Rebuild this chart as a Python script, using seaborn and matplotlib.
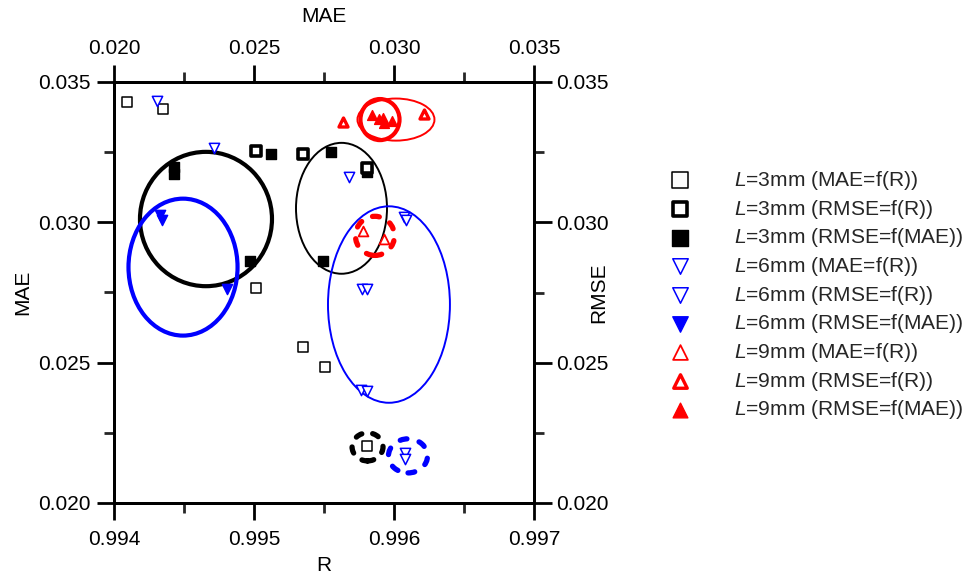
import numpy as np
import pandas as pd
import matplotlib
matplotlib.use("Agg")
import matplotlib.pyplot as plt
import seaborn as sns
from matplotlib.patches import Ellipse
from matplotlib.ticker import MultipleLocator, FormatStrFormatter

# ---------------- data ----------------
# L = 3 mm
l3_mae_R_x = [0.994095, 0.994350, 0.995012, 0.995352, 0.995507, 0.995805]
l3_mae_R_y = [0.03429, 0.03405, 0.02767, 0.02557, 0.02483, 0.02204]
l3_rmse_R_x = [0.995012, 0.995352, 0.995809]
l3_rmse_R_y = [0.03255, 0.03245, 0.03192]
l3_rmse_MAE_x = [0.02213, 0.02213, 0.02486, 0.02561, 0.02774, 0.02748, 0.02903]
l3_rmse_MAE_y = [0.03198, 0.03171, 0.02864, 0.03245, 0.03251, 0.02864, 0.03178]
# L = 6 mm
l6_mae_R_x = [0.994712, 0.995679, 0.995764, 0.995809, 0.996079, 0.996079]
l6_mae_R_y = [0.03265, 0.03162, 0.02403, 0.02398, 0.02178, 0.02158]
l6_rmse_R_x = [0.994307, 0.995769, 0.995809, 0.996074, 0.996086]
l6_rmse_R_y = [0.03431, 0.02763, 0.02763, 0.03019, 0.03007]
l6_rmse_MAE_x = [0.02164, 0.02170, 0.02403]
l6_rmse_MAE_y = [0.03025, 0.03007, 0.02763]
# L = 9 mm
l9_mae_R_x = [0.995781, 0.995929]
l9_mae_R_y = [0.02968, 0.02942]
l9_rmse_R_x = [0.995634, 0.996214]
l9_rmse_R_y = [0.03358, 0.03386]
l9_rmse_MAE_x = [0.029225, 0.029464, 0.029618, 0.029654, 0.029918]
l9_rmse_MAE_y = [0.033821, 0.033668, 0.033704, 0.033525, 0.033607]

# ellipses (in R / MAE-RMSE units): centre, full width, full height
ell_cx = [0.994657, 0.994493, 0.995625, 0.995964, 0.995900, 0.996014, 0.995864, 0.995811, 0.996100]
ell_cy = [0.030118, 0.028404, 0.030500, 0.027071, 0.033661, 0.033661, 0.029518, 0.022000, 0.021679]
ell_w = [0.000943, 0.000779, 0.000650, 0.000871, 0.000279, 0.000550, 0.000279, 0.000221, 0.000279]
ell_h = [0.004786, 0.004879, 0.004664, 0.007000, 0.001464, 0.001500, 0.001393, 0.001000, 0.001214]

legend_labels = [
    "$L$=3mm (MAE=f(R))", "$L$=3mm (RMSE=f(R))", "$L$=3mm (RMSE=f(MAE))",
    "$L$=6mm (MAE=f(R))", "$L$=6mm (RMSE=f(R))", "$L$=6mm (RMSE=f(MAE))",
    "$L$=9mm (MAE=f(R))", "$L$=9mm (RMSE=f(R))", "$L$=9mm (RMSE=f(MAE))",
]
r_ticks = [0.994, 0.995, 0.996, 0.997]
v_ticks = [0.020, 0.025, 0.030, 0.035]

# ---------------- style ----------------
sns.set_theme(style="white")
plt.rcParams["font.family"] = ["Liberation Sans", "DejaVu Sans"]
plt.rcParams["mathtext.fontset"] = "custom"
plt.rcParams["mathtext.it"] = "Liberation Sans:italic"
plt.rcParams["mathtext.rm"] = "Liberation Sans"
FS = 15

W, H = 965, 575
fig = plt.figure(figsize=(W / 100, H / 100), dpi=100)
fig.patch.set_facecolor("white")
ax = fig.add_axes([114 / W, (H - 503) / H, 420 / W, 421 / H])
ax_top = ax.twiny()    # MAE on top, shares left y
ax_right = ax.twinx()  # RMSE on right, shares bottom x

ax.set_xlim(0.994, 0.997)
ax.set_ylim(0.020, 0.035)
ax_top.set_xlim(0.020, 0.035)
ax_right.set_ylim(0.020, 0.035)

# ---------------- ellipses ----------------
ell_styles = [
    dict(color="black", lw=3.0, ls="-"),
    dict(color="blue", lw=3.0, ls="-"),
    dict(color="black", lw=1.4, ls="-"),
    dict(color="blue", lw=1.4, ls="-"),
    dict(color="red", lw=3.0, ls="-"),
    dict(color="red", lw=1.4, ls="-"),
    dict(color="red", lw=3.8, ls=(0, (1.3, 2.3))),
    dict(color="black", lw=3.8, ls=(0, (1.2, 2.1))),
    dict(color="blue", lw=3.8, ls=(0, (1.3, 2.4))),
]
for cx, cy, w, h, st in zip(ell_cx, ell_cy, ell_w, ell_h, ell_styles):
    e = Ellipse((cx, cy), w, h, fill=False, edgecolor=st["color"], linewidth=st["lw"],
                linestyle=st["ls"], capstyle="round", zorder=2)
    ax.add_patch(e)

# ---------------- points ----------------
handles = []
def pts(axis, x, y, marker, fc, ec, lw, s, label):
    sns.scatterplot(x=x, y=y, ax=axis, marker=marker, s=s, facecolor=fc,
                    edgecolor=ec, linewidth=lw, legend=False, label=label, zorder=3)
    handles.append(axis.collections[-1])

pts(ax, l3_mae_R_x, l3_mae_R_y, "s", "white", "black", 1.1, 55, legend_labels[0])
pts(ax_right, l3_rmse_R_x, l3_rmse_R_y, "s", "white", "black", 2.6, 45, legend_labels[1])
pts(ax_top, l3_rmse_MAE_x, l3_rmse_MAE_y, "s", "black", "black", 1.0, 55, legend_labels[2])
pts(ax, l6_mae_R_x, l6_mae_R_y, "v", "white", "blue", 1.1, 55, legend_labels[3])
pts(ax_right, l6_rmse_R_x, l6_rmse_R_y, "v", "white", "blue", 1.1, 55, legend_labels[4])
pts(ax_top, l6_rmse_MAE_x, l6_rmse_MAE_y, "v", "blue", "blue", 1.0, 55, legend_labels[5])
pts(ax, l9_mae_R_x, l9_mae_R_y, "^", "white", "red", 1.3, 50, legend_labels[6])
pts(ax_right, l9_rmse_R_x, l9_rmse_R_y, "^", "white", "red", 2.4, 42, legend_labels[7])
pts(ax_top, l9_rmse_MAE_x, l9_rmse_MAE_y, "^", "red", "red", 1.0, 50, legend_labels[8])

# ---------------- axes formatting ----------------
for a in (ax, ax_top, ax_right):
    for sp in a.spines.values():
        sp.set_linewidth(2.0)
        sp.set_color("black")
    a.set_facecolor("none")

ax.xaxis.set_major_locator(plt.FixedLocator(r_ticks))
ax.xaxis.set_minor_locator(MultipleLocator(0.0005))
ax.yaxis.set_major_locator(plt.FixedLocator(v_ticks))
ax.yaxis.set_minor_locator(MultipleLocator(0.0025))
ax_top.xaxis.set_major_locator(plt.FixedLocator(v_ticks))
ax_top.xaxis.set_minor_locator(MultipleLocator(0.0025))
ax_right.yaxis.set_major_locator(plt.FixedLocator(v_ticks))
ax_right.yaxis.set_minor_locator(MultipleLocator(0.0025))
ax.xaxis.set_major_formatter(FormatStrFormatter("%.3f"))
ax.yaxis.set_major_formatter(FormatStrFormatter("%.3f"))
ax_top.xaxis.set_major_formatter(FormatStrFormatter("%.3f"))
ax_right.yaxis.set_major_formatter(FormatStrFormatter("%.3f"))

ax.tick_params(axis="x", which="major", direction="out", length=12.5, width=2, pad=7,
               labelsize=FS, colors="black", bottom=True, top=False)
ax.tick_params(axis="x", which="minor", direction="out", length=7, width=2, bottom=True, top=False)
ax.tick_params(axis="y", which="major", direction="out", length=12, width=2, pad=5,
               labelsize=FS, colors="black", left=True, right=False)
ax.tick_params(axis="y", which="minor", direction="out", length=7, width=2, left=True, right=False)
ax_top.tick_params(axis="x", which="major", direction="out", length=12.5, width=2, pad=5,
                   labelsize=FS, colors="black", top=True, bottom=False)
ax_top.tick_params(axis="x", which="minor", direction="out", length=7, width=2, top=True, bottom=False)
ax_top.tick_params(axis="y", which="both", left=False, right=False, labelleft=False, labelright=False)
ax_right.tick_params(axis="y", which="major", direction="out", length=13, width=2, pad=3,
                     labelsize=FS, colors="black", right=True, left=False)
ax_right.tick_params(axis="y", which="minor", direction="out", length=7, width=2, right=True, left=False)
ax_right.tick_params(axis="x", which="both", bottom=False, top=False, labelbottom=False, labeltop=False)

ax.set_xlabel("R", fontsize=FS, color="black")
ax.set_ylabel("MAE", fontsize=FS, color="black")
ax_top.set_xlabel("MAE", fontsize=FS, color="black")
ax_right.set_ylabel("RMSE", fontsize=FS, color="black")
ax.xaxis.set_label_coords(0.5, -0.125)
ax_top.xaxis.set_label_coords(0.5, 1.142)
ax.yaxis.set_label_coords(-0.195, 0.5)
ax_right.yaxis.set_label_coords(1.131, 0.5)

# ---------------- legend ----------------
leg = fig.legend(handles=handles, labels=legend_labels, loc="upper left",
                 bbox_to_anchor=(659 / W, 1 - 169 / H), frameon=False, fontsize=FS + 0.1,
                 markerscale=1.5, handlelength=2.0, handletextpad=1.6,
                 labelspacing=0.27, borderaxespad=0.0, borderpad=0.0)

fig.savefig("out.png", dpi=100, facecolor="white")
